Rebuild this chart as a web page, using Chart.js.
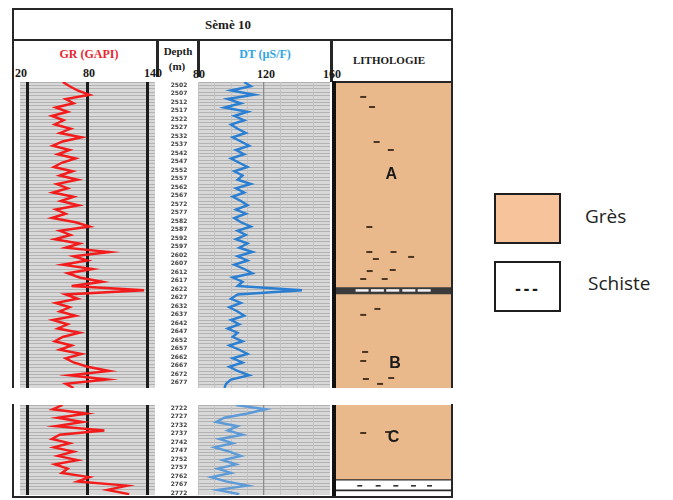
<!DOCTYPE html>
<html>
<head>
<meta charset="utf-8">
<script src="https://cdn.jsdelivr.net/npm/chart.js@4.4.1/dist/chart.umd.min.js"></script>
<style>
  html, body { margin: 0; padding: 0; background: #fff; }
  body { position: relative; width: 673px; height: 500px; overflow: hidden; font-family: "Liberation Serif", serif; }
  canvas { position: absolute; }
  .ln { position: absolute; background: #262626; }
  .t { position: absolute; font-weight: bold; white-space: nowrap; transform: translate(-50%, -50%); line-height: 1; color: #1a1a1a; }
  .box { position: absolute; box-sizing: border-box; border: 2px solid #1e1e1e; }
  .leg { position: absolute; font-family: "Open Sans", sans-serif; font-size: 19px; color: #222; transform: translateY(-50%); line-height: 1; }
</style>
</head>
<body>
<!-- frame -->
<div class="ln" style="left:12px;top:8px;width:441px;height:2px"></div>
<div class="ln" style="left:12px;top:39px;width:441px;height:2px"></div>
<div class="ln" style="left:12px;top:8px;width:2px;height:380px"></div>
<div class="ln" style="left:12px;top:404px;width:2px;height:94px"></div>
<div class="ln" style="left:451px;top:8px;width:2px;height:380px"></div>
<div class="ln" style="left:451px;top:404px;width:2px;height:94px"></div>
<div class="ln" style="left:12px;top:496px;width:441px;height:2px"></div>
<div class="ln" style="left:156px;top:41px;width:3px;height:36px"></div>
<div class="ln" style="left:197px;top:41px;width:3px;height:36px"></div>
<div class="ln" style="left:330px;top:41px;width:3px;height:41px"></div>

<!-- header -->
<div class="t" style="left:228px;top:24px;font-size:13px">Sèmè 10</div>
<div class="t" style="left:89px;top:54px;font-size:12px;color:#e8262d">GR (GAPI)</div>
<div class="t" style="left:178px;top:51px;font-size:11px">Depth</div>
<div class="t" style="left:177px;top:66px;font-size:11px">(m)</div>
<div class="t" style="left:265px;top:54px;font-size:12px;color:#2fa4e7">DT (µS/F)</div>
<div class="t" style="left:389px;top:60px;font-size:11px">LITHOLOGIE</div>
<div id="scaleLabels"></div>

<!-- tracks -->
<canvas id="grUp" width="135" height="306" style="left:20px;top:82px"></canvas>
<canvas id="grLo" width="135" height="90" style="left:20px;top:405px"></canvas>
<canvas id="dtUp" width="172" height="306" style="left:158px;top:82px"></canvas>
<canvas id="dtLo" width="172" height="90" style="left:158px;top:405px"></canvas>
<canvas id="liUp" width="115" height="306" style="left:336px;top:82px"></canvas>
<canvas id="liLo" width="115" height="90" style="left:336px;top:405px"></canvas>
<div class="ln" style="left:332px;top:81px;width:120px;height:2px"></div>
<div class="ln" style="left:332px;top:81px;width:4px;height:307px;background:#111"></div>
<div class="ln" style="left:332px;top:405px;width:4px;height:91px;background:#111"></div>

<!-- legend -->
<div class="box" style="left:494px;top:193px;width:67px;height:51px;background:#f7c39a"></div>
<div class="leg" style="left:585px;top:216px">Grès</div>
<div class="box" style="left:494px;top:261px;width:67px;height:51px;background:#fff"></div>
<div class="t" style="left:528px;top:288px;font-family:'Open Sans',sans-serif;font-size:17px;letter-spacing:3px">---</div>
<div class="leg" style="left:588px;top:283px">Schiste</div>

<script>
// upper interval (above the break)
var depthUpper = [2500, 2502.5, 2505, 2507.5, 2510, 2512.5, 2515, 2517.5, 2520, 2522.5,
  2525, 2527.5, 2530, 2532.5, 2535, 2537.5, 2540, 2542.5, 2545, 2547.5,
  2550, 2552.5, 2555, 2557.5, 2560, 2562.5, 2565, 2567.5, 2570, 2572.5,
  2575, 2577.5, 2580, 2582.5, 2585, 2587.5, 2590, 2592.5, 2595, 2597.5,
  2600, 2602.5, 2605, 2607.5, 2610, 2612.5, 2615, 2617.5, 2620, 2622.5,
  2625, 2627.5, 2630, 2632.5, 2635, 2637.5, 2640, 2642.5, 2645, 2647.5,
  2650, 2652.5, 2655, 2657.5, 2660, 2662.5, 2665, 2667.5, 2670, 2672.5,
  2675, 2677.5, 2680];
var grUpper = [55, 62, 70, 82, 58, 66, 48, 60, 44, 56,
  47, 63, 52, 74, 55, 45, 62, 50, 68, 54,
  46, 65, 52, 70, 49, 60, 45, 66, 53, 71,
  48, 58, 44, 68, 82, 52, 63, 47, 72, 58,
  102, 66, 80, 55, 85, 60, 72, 95, 64, 137,
  58, 70, 48, 62, 52, 68, 45, 60, 50, 72,
  55, 47, 64, 52, 74, 58, 66, 80, 102, 62,
  100, 58, 66];
var dtUpper = [108, 112, 100, 114, 98, 106, 96, 110, 102, 108,
  100, 104, 109, 101, 106, 111, 103, 108, 100, 105,
  110, 102, 107, 104, 112, 103, 108, 101, 106, 110,
  103, 109, 102, 106, 112, 104, 109, 103, 110, 105,
  113, 104, 110, 102, 108, 113, 101, 107, 104, 143,
  104, 100, 106, 99, 104, 108, 100, 105, 98, 104,
  101, 107, 99, 105, 110, 101, 107, 99, 104, 111,
  100, 97, 96];

// lower interval (below the break)
var depthLower = [2720, 2722.5, 2725, 2727.5, 2730, 2732.5, 2735, 2737.5, 2740, 2742.5,
  2745, 2747.5, 2750, 2752.5, 2755, 2757.5, 2760, 2762.5, 2765, 2767.5,
  2770, 2772.5];
var grLower = [55, 45, 79, 50, 75, 48, 97, 52, 44, 62, 46, 66, 50, 70, 47, 60, 54, 82, 70, 120, 100, 122];
var dtLower = [103, 121, 110, 96, 91, 104, 98, 107, 93, 101, 90, 99, 106, 95, 103, 92, 100, 88, 97, 110, 92, 105];

// depth column labels
var depthLabelsUpper = [2502, 2507, 2512, 2517, 2522, 2527, 2532, 2537, 2542, 2547, 2552, 2557,
  2562, 2567, 2572, 2577, 2582, 2587, 2592, 2597, 2602, 2607, 2612, 2617, 2622, 2627,
  2632, 2637, 2642, 2647, 2652, 2657, 2662, 2667, 2672, 2677];
var depthLabelsLower = [2722, 2727, 2732, 2737, 2742, 2747, 2752, 2757, 2762, 2767, 2772];

// scales
var grTicks = [20, 80, 140];
var dtTicks = [80, 90, 100, 110, 120, 130, 140, 150, 160];
var grScaleLabels = ["20", "80", "140"];
var dtScaleLabels = ["80", "120", "160"];

// lithology: [top, base] and kind
var lithoUpper = [[2500, 2620.6], [2620.6, 2624.7], [2624.7, 2680]];
var lithoUpperKind = ["gres", "schiste", "gres"];
var lithoLower = [[2720, 2763.5], [2763.5, 2770.8]];
var lithoLowerKind = ["gres", "schisteBas"];

// shale specks in the sandstone (x = 0..1 across column)
var speckUpperX = [0.105, 0.22, 0.28, 0.465, 0.185, 0.185, 0.5, 0.27, 0.73, 0.19, 0.49, 0.105, 0.385,
  0.29, 0.105, 0.13, 0.105, 0.14, 0.325, 0.47];
var speckUpperD = [2508.8, 2514.7, 2535.3, 2540, 2585.3, 2600, 2600, 2604.1, 2602.9, 2611.2, 2610.6, 2615.9, 2615.9,
  2633.5, 2637, 2658.8, 2664.1, 2674.7, 2677.6, 2674.1];
var speckLowerX = [0.105, 0.43];
var speckLowerD = [2736.5, 2735.9];

// dashes in the shale bands
var dashUpperX = [0.09, 0.29, 0.49, 0.7, 0.9];
var dashUpperD = [2622.6, 2622.6, 2622.6, 2622.6, 2622.6];
var dashLowerX = [0.06, 0.3, 0.53, 0.76, 0.97];
var dashLowerD = [2767.6, 2767.6, 2767.6, 2767.6, 2767.6];

// unit letters
var unitUpper = ["A", "B"];
var unitUpperX = [0.47, 0.52];
var unitUpperD = [2554.7, 2665.9];
var unitLower = ["C"];
var unitLowerX = [0.5];
var unitLowerD = [2739.4];

var bgPlugin = {
  id: "bg",
  beforeDraw: function(chart, args, opts) {
    var a = chart.chartArea;
    var ctx = chart.ctx;
    ctx.save();
    ctx.fillStyle = opts.color || "#d9d9d9";
    ctx.fillRect(a.left, a.top, a.right - a.left, a.bottom - a.top);
    ctx.restore();
  }
};

var depthPlugin = {
  id: "depthLabels",
  afterDraw: function(chart, args, opts) {
    if (!opts.values) return;
    var ctx = chart.ctx;
    var y = chart.scales.y;
    ctx.save();
    ctx.font = "bold 6px 'DejaVu Sans'";
    ctx.fillStyle = "#3c3c3c";
    ctx.textAlign = "center";
    ctx.textBaseline = "middle";
    for (var i = 0; i < opts.values.length; i++) {
      ctx.fillText(String(opts.values[i]), opts.x, y.getPixelForValue(opts.values[i]));
    }
    ctx.restore();
  }
};

var letterPlugin = {
  id: "letters",
  afterDatasetsDraw: function(chart, args, opts) {
    if (!opts.text) return;
    var ctx = chart.ctx;
    ctx.save();
    ctx.font = "bold 16px 'Liberation Sans'";
    ctx.fillStyle = "#1a1a1a";
    ctx.textAlign = "center";
    ctx.textBaseline = "middle";
    for (var i = 0; i < opts.text.length; i++) {
      ctx.fillText(opts.text[i], chart.scales.x2.getPixelForValue(opts.x[i]), chart.scales.y.getPixelForValue(opts.d[i]));
    }
    ctx.restore();
  }
};

function points(xs, ds) {
  var p = [];
  for (var i = 0; i < xs.length; i++) p.push({ x: xs[i], y: ds[i] });
  return p;
}

function logChart(id, depth, values, color, width, xMin, xMax, ticks, gridStyle, gridOnTop, yMin, yMax, labels) {
  return new Chart(document.getElementById(id), {
    type: "scatter",
    data: {
      datasets: [{
        data: points(values, depth),
        showLine: true,
        borderColor: color,
        borderWidth: width,
        pointRadius: 0,
        tension: 0
      }]
    },
    plugins: [bgPlugin, depthPlugin],
    options: {
      responsive: false,
      animation: false,
      layout: { autoPadding: false, padding: { left: labels ? 40 : 0, right: 0, top: 0, bottom: 0 } },
      plugins: {
        legend: { display: false },
        tooltip: { enabled: false },
        bg: { color: "#d8d8d8" },
        depthLabels: { values: labels, x: 21 }
      },
      scales: {
        y: {
          type: "linear", reverse: true, min: yMin, max: yMax,
          afterFit: function(s) { s.width = 0; },
          ticks: { display: false, stepSize: 2 },
          border: { display: false },
          grid: { drawTicks: false, color: "#b2b2b2", lineWidth: 1 }
        },
        x: {
          type: "linear", min: xMin, max: xMax,
          z: gridOnTop ? 1 : 0,
          afterBuildTicks: function(s) {
            s.ticks = [];
            for (var i = 0; i < ticks.length; i++) s.ticks.push({ value: ticks[i] });
          },
          afterFit: function(s) { s.height = 0; },
          ticks: { display: false },
          border: { display: false },
          grid: {
            drawTicks: false,
            color: function(c) { return gridStyle(c.tick.value).color; },
            lineWidth: function(c) { return gridStyle(c.tick.value).width; }
          }
        }
      }
    }
  });
}

function grGrid(v) { return { color: "#1c1c1c", width: 3 }; }
function dtGrid(v) {
  if (v === 120) return { color: "#8c8c8c", width: 1.3 };
  return { color: "#c2c2c2", width: 1 };
}

function lithoChart(id, intervals, kinds, speckX, speckD, dashX, dashD, dashBand, units, unitX, unitD, yMin, yMax) {
  var ds = [];
  for (var i = 0; i < intervals.length; i++) {
    var k = kinds[i];
    ds.push({
      type: "bar",
      data: [intervals[i]],
      backgroundColor: k === "gres" ? "#eab98b" : (k === "schiste" ? "#3b3b3b" : "#ffffff"),
      borderColor: "#2a2a2a",
      borderWidth: k === "schisteBas" ? { top: 2, bottom: 2, left: 0, right: 0 } : 0,
      borderSkipped: false,
      grouped: false,
      barPercentage: 1,
      categoryPercentage: 1,
      order: 3
    });
  }
  ds.push({
    type: "scatter", xAxisID: "x2",
    data: points(speckX, speckD),
    pointStyle: "line", pointRadius: 3, pointBorderWidth: 2,
    pointBorderColor: "#4a3422", pointBackgroundColor: "#4a3422",
    order: 1
  });
  ds.push({
    type: "scatter", xAxisID: "x2",
    data: points(dashX, dashD),
    pointStyle: "line",
    pointRadius: dashBand === "dark" ? 6.5 : 2.5,
    pointBorderWidth: dashBand === "dark" ? 2.5 : 1.5,
    pointBorderColor: dashBand === "dark" ? "#f4f4f4" : "#222222",
    order: 1
  });
  return new Chart(document.getElementById(id), {
    type: "bar",
    data: { labels: ["L"], datasets: ds },
    plugins: [letterPlugin],
    options: {
      responsive: false,
      animation: false,
      layout: { autoPadding: false, padding: 0 },
      plugins: {
        legend: { display: false },
        tooltip: { enabled: false },
        letters: { text: units, x: unitX, d: unitD }
      },
      scales: {
        x: { type: "category", display: false },
        x2: { type: "linear", min: 0, max: 1, display: false },
        y: { type: "linear", reverse: true, min: yMin, max: yMax, display: false }
      }
    }
  });
}

logChart("grUp", depthUpper, grUpper, "#f21c1c", 2.4, 11.94, 148.06, grTicks, grGrid, true, 2500, 2680, null);
logChart("grLo", depthLower, grLower, "#f21c1c", 2.4, 11.94, 148.06, grTicks, grGrid, true, 2720, 2773, null);
logChart("dtUp", depthUpper, dtUpper, "#2a7fd2", 2.4, 80, 160, dtTicks, dtGrid, false, 2500, 2680, depthLabelsUpper);
logChart("dtLo", depthLower, dtLower, "#5c9ad8", 2.4, 80, 160, dtTicks, dtGrid, false, 2720, 2773, depthLabelsLower);

lithoChart("liUp", lithoUpper, lithoUpperKind, speckUpperX, speckUpperD, dashUpperX, dashUpperD, "dark",
  unitUpper, unitUpperX, unitUpperD, 2500, 2680);
lithoChart("liLo", lithoLower, lithoLowerKind, speckLowerX, speckLowerD, dashLowerX, dashLowerD, "light",
  unitLower, unitLowerX, unitLowerD, 2720, 2773);

// scale numbers in header
var scaleBox = document.getElementById("scaleLabels");
var grLabelPos = [21, 89, 153];
var dtLabelPos = [199, 266, 332];
for (var i = 0; i < grScaleLabels.length; i++) {
  var d = document.createElement("div");
  d.className = "t";
  d.style.cssText = "left:" + grLabelPos[i] + "px;top:73px;font-size:12px";
  d.textContent = grScaleLabels[i];
  scaleBox.appendChild(d);
}
for (var j = 0; j < dtScaleLabels.length; j++) {
  var e = document.createElement("div");
  e.className = "t";
  e.style.cssText = "left:" + dtLabelPos[j] + "px;top:74px;font-size:12px";
  e.textContent = dtScaleLabels[j];
  scaleBox.appendChild(e);
}
</script>
</body>
</html>
